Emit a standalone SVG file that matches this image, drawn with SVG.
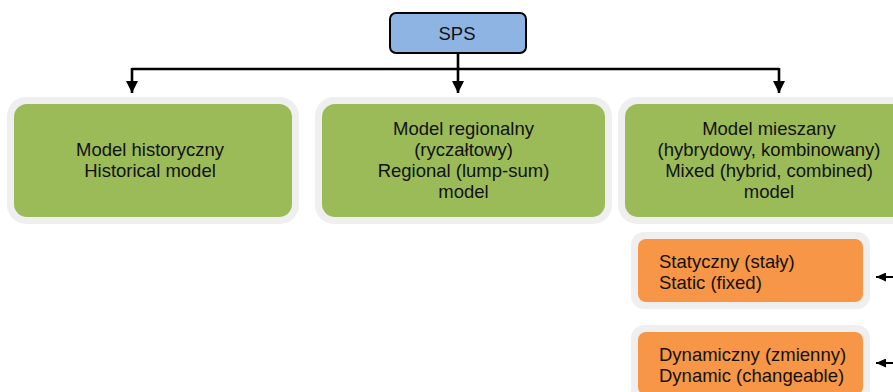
<svg xmlns="http://www.w3.org/2000/svg" width="893" height="392" viewBox="0 0 893 392">
<defs>
<style>
.t{font-family:"Liberation Sans",Arial,sans-serif;font-size:18.5px;fill:#111;}
.c{text-anchor:middle;}
.halo{fill:#EFEFEF;}
.g{fill:#9BBB59;}
.o{fill:#F79646;}
.ln{fill:none;stroke:#000;stroke-width:2.6;}
.ls{fill:none;stroke:#000;stroke-width:2;}
</style>
<marker id="ah" markerUnits="userSpaceOnUse" markerWidth="12" markerHeight="12" refX="12" refY="6" orient="auto">
<path d="M0,0 L12,6 L0,12 Z" fill="#000"/>
</marker>
<marker id="ahs" markerUnits="userSpaceOnUse" markerWidth="10" markerHeight="9" refX="10" refY="4.5" orient="auto">
<path d="M0,0 L10,4.5 L0,9 Z" fill="#000"/>
</marker>
</defs>
<g id="connectors">
<path class="ln" d="M458,53 V93" marker-end="url(#ah)"/>
<path class="ln" d="M132,69 H779"/>
<path class="ln" d="M132,68 V93" marker-end="url(#ah)"/>
<path class="ln" d="M779,68 V93" marker-end="url(#ah)"/>
<path class="ls" d="M893,277 H876" marker-end="url(#ahs)"/>
<path class="ls" d="M893,363 H876" marker-end="url(#ahs)"/>
</g>
<g id="sps">
<rect x="390" y="13" width="136" height="40" rx="6" fill="#8EB4E3" stroke="#000" stroke-width="2"/>
<text class="t c" x="457" y="39.5">SPS</text>
</g>
<g id="historical">
<rect class="halo" x="7" y="97" width="292" height="127" rx="19"/>
<rect class="g" x="14" y="104" width="278" height="113" rx="13"/>
<text class="t c" x="150" y="156">Model historyczny</text>
<text class="t c" x="150" y="177">Historical model</text>
</g>
<g id="regional">
<rect class="halo" x="315" y="97" width="297" height="127" rx="19"/>
<rect class="g" x="322" y="104" width="283" height="113" rx="13"/>
<text class="t c" x="463.5" y="135">Model regionalny</text>
<text class="t c" x="463.5" y="156">(ryczałtowy)</text>
<text class="t c" x="463.5" y="177">Regional (lump-sum)</text>
<text class="t c" x="463.5" y="198">model</text>
</g>
<g id="mixed">
<rect class="halo" x="618" y="97" width="310" height="127" rx="19"/>
<rect class="g" x="625" y="104" width="296" height="113" rx="13"/>
<text class="t c" x="769" y="135">Model mieszany</text>
<text class="t c" x="769" y="156">(hybrydowy, kombinowany)</text>
<text class="t c" x="769" y="177">Mixed (hybrid, combined)</text>
<text class="t c" x="769" y="198">model</text>
</g>
<g id="static">
<rect class="halo" x="631" y="232" width="239" height="77" rx="13"/>
<rect class="o" x="638" y="239" width="225" height="63" rx="8"/>
<text class="t" x="659" y="268">Statyczny (stały)</text>
<text class="t" x="659" y="288.5">Static (fixed)</text>
</g>
<g id="dynamic">
<rect class="halo" x="631" y="325" width="239" height="77" rx="13"/>
<rect class="o" x="638" y="332" width="225" height="63" rx="8"/>
<text class="t" x="659" y="361">Dynamiczny (zmienny)</text>
<text class="t" x="659" y="381.5">Dynamic (changeable)</text>
</g>
</svg>
